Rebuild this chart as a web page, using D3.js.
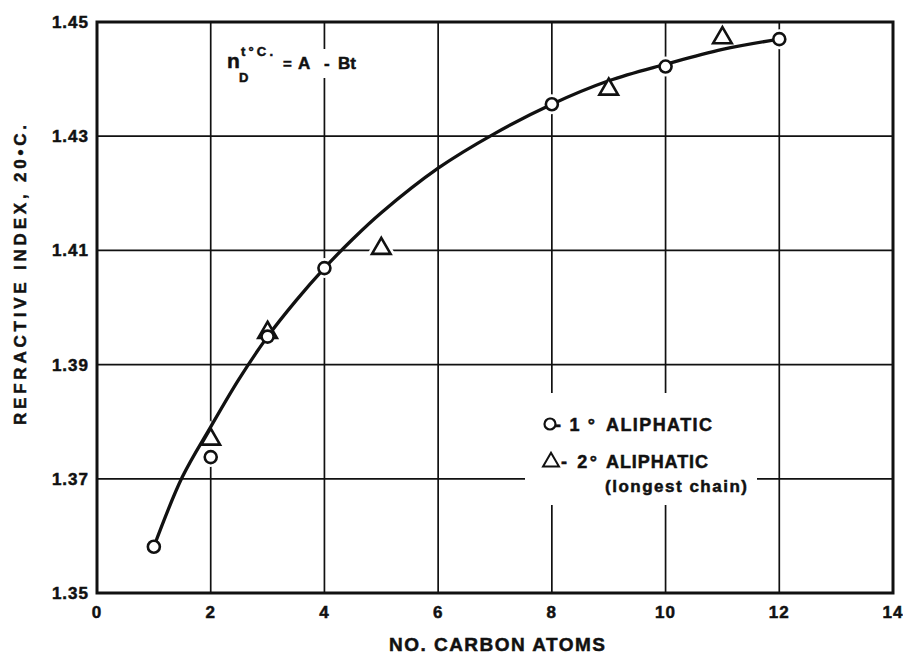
<!DOCTYPE html>
<html>
<head>
<meta charset="utf-8">
<script src="https://cdn.jsdelivr.net/npm/d3@7"></script>
<style>
  html, body { margin: 0; padding: 0; background: #fff; }
  svg { display: block; }
  text { font-family: "Liberation Sans", Arial, sans-serif; font-weight: bold; fill: #111; stroke: #111; stroke-width: 0.5; }
</style>
</head>
<body>
<script>
// ---- data ----
const xTicks = [0, 2, 4, 6, 8, 10, 12, 14];
const yTicks = [1.35, 1.37, 1.39, 1.41, 1.43, 1.45];
const yTickLabels = ["1.35", "1.37", "1.39", "1.41", "1.43", "1.45"];
// 1° aliphatic (circles)
const primaryX = [1, 2, 3, 4, 8, 10, 12];
const primaryY = [1.3581, 1.3738, 1.3949, 1.4069, 1.4356, 1.4422, 1.4470];
// 2° aliphatic, longest chain (triangles)
const secondaryX = [2, 3, 5, 9, 11];
const secondaryY = [1.3771, 1.3958, 1.4105, 1.4384, 1.4474];
// fitted curve drawn through the points
const curveX = [1, 1.5, 2, 2.5, 3, 3.5, 4, 4.5, 5, 6, 7, 8, 9, 10, 11, 12];
const curveY = [1.3581, 1.3703, 1.3791, 1.3875, 1.3949, 1.4012, 1.4069, 1.4120, 1.4166, 1.4244, 1.4305, 1.4356, 1.4397, 1.4426, 1.4452, 1.4470];

const W = 903, H = 656;
const svg = d3.select("body").append("svg").attr("width", W).attr("height", H);
svg.append("rect").attr("width", W).attr("height", H).attr("fill", "#fff");

const x = d3.scaleLinear().domain([0, 14]).range([97, 893]);
const y = d3.scaleLinear().domain([1.35, 1.45]).range([593, 22]);

// grid lines
const grid = svg.append("g").attr("stroke", "#111").attr("stroke-width", 1.7);
xTicks.slice(1, -1).forEach(t => {
  grid.append("line").attr("x1", x(t)).attr("x2", x(t)).attr("y1", y(1.35)).attr("y2", y(1.45));
});
yTicks.slice(1, -1).forEach(t => {
  grid.append("line").attr("x1", x(0)).attr("x2", x(14)).attr("y1", y(t)).attr("y2", y(t));
});

// white-outs behind text blocks (gaps in grid)
svg.append("rect").attr("x", 226).attr("y", 49).attr("width", 142).attr("height", 29).attr("fill", "#fff");
svg.append("rect").attr("x", 525).attr("y", 393).attr("width", 232).attr("height", 112).attr("fill", "#fff");

// marker halos
const triPath = d3.symbol().type(d3.symbolTriangle).size(150);
const halo = svg.append("g").attr("fill", "#fff").attr("stroke", "#fff").attr("stroke-width", 8);
primaryX.forEach((d, i) => halo.append("circle").attr("cx", x(d)).attr("cy", y(primaryY[i])).attr("r", 6));
secondaryX.forEach((d, i) => halo.append("path").attr("d", triPath())
  .attr("transform", `translate(${x(d)},${y(secondaryY[i]) + 1})`));

// curve
const line = d3.line().x((d, i) => x(curveX[i])).y(d => y(d)).curve(d3.curveCatmullRom.alpha(0.5));
svg.append("path").datum(curveY).attr("d", line).attr("fill", "none")
  .attr("stroke", "#111").attr("stroke-width", 3.3);

// markers
const mk = svg.append("g").attr("fill", "#fff").attr("stroke", "#111").attr("stroke-width", 2.6);
secondaryX.forEach((d, i) => mk.append("path").attr("d", triPath())
  .attr("stroke-linejoin", "miter")
  .attr("transform", `translate(${x(d)},${y(secondaryY[i]) + 1})`));
primaryX.forEach((d, i) => mk.append("circle").attr("cx", x(d)).attr("cy", y(primaryY[i])).attr("r", 6));

// frame
svg.append("rect").attr("x", x(0)).attr("y", y(1.45)).attr("width", x(14) - x(0)).attr("height", y(1.35) - y(1.45))
  .attr("fill", "none").attr("stroke", "#111").attr("stroke-width", 3);

// tick labels
yTicks.forEach((t, i) => {
  svg.append("text").attr("x", 89).attr("y", y(t) + 6).attr("text-anchor", "end")
    .attr("font-size", 17).attr("letter-spacing", 1).text(yTickLabels[i]);
});
xTicks.forEach(t => {
  svg.append("text").attr("x", x(t)).attr("y", 618).attr("text-anchor", "middle")
    .attr("font-size", 17).attr("letter-spacing", 1).text(String(t));
});

// axis titles
svg.append("text").attr("x", 389).attr("y", 651).attr("font-size", 19)
  .attr("textLength", 216).attr("lengthAdjust", "spacing").text("NO. CARBON ATOMS");
svg.append("text").attr("transform", "translate(26,425) rotate(-90)").attr("font-size", 17)
  .attr("textLength", 300).attr("lengthAdjust", "spacing").text("REFRACTIVE INDEX, 20\u2022C.");

// formula
svg.append("text").attr("x", 227).attr("y", 68).attr("font-size", 21).text("n");
svg.append("text").attr("x", 239).attr("y", 82).attr("font-size", 13).text("D");
svg.append("text").attr("x", 241).attr("y", 56).attr("font-size", 13).attr("textLength", 32).attr("lengthAdjust", "spacing").text("t\u00B0C.");
svg.append("text").attr("x", 283).attr("y", 69).attr("font-size", 15).text("=");
svg.append("text").attr("x", 298).attr("y", 69).attr("font-size", 17).text("A");
svg.append("text").attr("x", 324).attr("y", 69).attr("font-size", 17).text("-");
svg.append("text").attr("x", 338).attr("y", 69).attr("font-size", 17).text("Bt");

// legend
svg.append("circle").attr("cx", 550).attr("cy", 424).attr("r", 5.5).attr("fill", "#fff").attr("stroke", "#111").attr("stroke-width", 2.2);
svg.append("text").attr("x", 555).attr("y", 431).attr("font-size", 18).attr("textLength", 40).attr("lengthAdjust", "spacing").text("-1\u00B0");
svg.append("text").attr("x", 606).attr("y", 431).attr("font-size", 18).attr("textLength", 106).attr("lengthAdjust", "spacing").text("ALIPHATIC");
svg.append("path").attr("d", d3.symbol().type(d3.symbolTriangle).size(110)())
  .attr("transform", "translate(551,462)").attr("fill", "#fff").attr("stroke", "#111").attr("stroke-width", 2);
svg.append("text").attr("x", 561).attr("y", 468).attr("font-size", 18).attr("textLength", 36).attr("lengthAdjust", "spacing").text("- 2\u00B0");
svg.append("text").attr("x", 606).attr("y", 468).attr("font-size", 18).attr("textLength", 102).attr("lengthAdjust", "spacing").text("ALIPHATIC");
svg.append("path").attr("d", "");
svg.append("text").attr("x", 605).attr("y", 492).attr("font-size", 17).attr("textLength", 142).attr("lengthAdjust", "spacing").text("(longest chain)");
</script>
</body>
</html>
